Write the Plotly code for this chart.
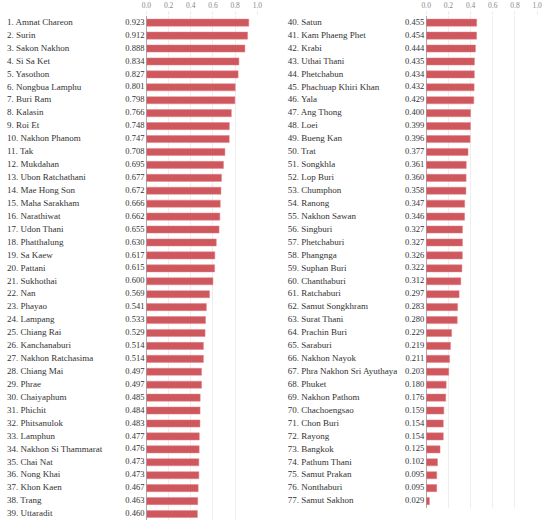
import plotly.graph_objects as go

# ranking data, two columns
left_names = ["Amnat Chareon", "Surin", "Sakon Nakhon", "Si Sa Ket", "Yasothon",
              "Nongbua Lamphu", "Buri Ram", "Kalasin", "Roi Et", "Nakhon Phanom",
              "Tak", "Mukdahan", "Ubon Ratchathani", "Mae Hong Son", "Maha Sarakham",
              "Narathiwat", "Udon Thani", "Phatthalung", "Sa Kaew", "Pattani",
              "Sukhothai", "Nan", "Phayao", "Lampang", "Chiang Rai",
              "Kanchanaburi", "Nakhon Ratchasima", "Chiang Mai", "Phrae", "Chaiyaphum",
              "Phichit", "Phitsanulok", "Lamphun", "Nakhon Si Thammarat", "Chai Nat",
              "Nong Khai", "Khon Kaen", "Trang", "Uttaradit"]
left_values = [0.923, 0.912, 0.888, 0.834, 0.827, 0.801, 0.798, 0.766, 0.748, 0.747,
               0.708, 0.695, 0.677, 0.672, 0.666, 0.662, 0.655, 0.630, 0.617, 0.615,
               0.600, 0.569, 0.541, 0.533, 0.529, 0.514, 0.514, 0.497, 0.497, 0.485,
               0.484, 0.483, 0.477, 0.476, 0.473, 0.473, 0.467, 0.463, 0.460]

right_names = ["Satun", "Kam Phaeng Phet", "Krabi", "Uthai Thani", "Phetchabun",
               "Phachuap Khiri Khan", "Yala", "Ang Thong", "Loei", "Bueng Kan",
               "Trat", "Songkhla", "Lop Buri", "Chumphon", "Ranong",
               "Nakhon Sawan", "Singburi", "Phetchaburi", "Phangnga", "Suphan Buri",
               "Chanthaburi", "Ratchaburi", "Samut Songkhram", "Surat Thani", "Prachin Buri",
               "Saraburi", "Nakhon Nayok", "Phra Nakhon Sri Ayuthaya", "Phuket", "Nakhon Pathom",
               "Chachoengsao", "Chon Buri", "Rayong", "Bangkok", "Pathum Thani",
               "Samut Prakan", "Nonthaburi", "Samut Sakhon"]
right_values = [0.455, 0.454, 0.444, 0.435, 0.434, 0.432, 0.429, 0.400, 0.399, 0.396,
                0.377, 0.361, 0.360, 0.358, 0.347, 0.346, 0.327, 0.327, 0.326, 0.322,
                0.312, 0.297, 0.283, 0.280, 0.229, 0.219, 0.211, 0.203, 0.180, 0.176,
                0.159, 0.154, 0.154, 0.125, 0.102, 0.095, 0.095, 0.029]

tick_vals = [0.0, 0.2, 0.4, 0.6, 0.8, 1.0]

W, H = 550, 524
BAR = "rgb(206,88,94)"
FONT = "Liberation Serif, Times New Roman, DejaVu Serif, serif"

left_labels = [f"{i + 1}. {n}" for i, n in enumerate(left_names)]
start = len(left_names) + 1
right_labels = [f"{i + start}. {n}" for i, n in enumerate(right_names)]

fig = go.Figure()

# bars
fig.add_trace(go.Bar(x=left_values, y=left_labels, orientation="h",
                     marker=dict(color=BAR, line=dict(color="rgb(226,130,134)", width=0.5)),
                     xaxis="x", yaxis="y", hoverinfo="skip"))
fig.add_trace(go.Bar(x=right_values, y=right_labels, orientation="h",
                     marker=dict(color=BAR, line=dict(color="rgb(226,130,134)", width=0.5)),
                     xaxis="x2", yaxis="y2", hoverinfo="skip"))

# names and value text, on helper axes measured in pixels
for labels, vals, xa, ya, x0, x1 in [
    (left_labels, left_values, "x3", "y", 2, 142),
    (right_labels, right_values, "x4", "y2", 288, 427),
]:
    fig.add_trace(go.Scatter(x=[x0] * len(labels), y=labels, mode="text",
                             text=labels, textposition="middle right",
                             textfont=dict(family=FONT, size=9, color="#333"),
                             xaxis=xa, yaxis=ya, hoverinfo="skip"))
    fig.add_trace(go.Scatter(x=[x1] * len(labels), y=labels, mode="text",
                             text=[f"{v:.3f}" for v in vals], textposition="middle left",
                             textfont=dict(family=FONT, size=8.5, color="#333"),
                             xaxis=xa, yaxis=ya, hoverinfo="skip"))

row = 12.93
top = 16.2
bot_left = top + len(left_labels) * row
bot_right = top + len(right_labels) * row

bar_axis = dict(range=[0, 1], side="top", tickvals=tick_vals, tickformat=".1f",
                tickfont=dict(family=FONT, size=7.5, color="#888"),
                showgrid=True, gridcolor="#eeeeee", gridwidth=1,
                zeroline=True, zerolinecolor="#aaaaaa", zerolinewidth=1,
                ticks="outside", ticklen=4, tickcolor="#eeeeee", showline=False,
                fixedrange=True)

fig.update_layout(
    width=W, height=H,
    margin=dict(l=0, r=0, t=0, b=0),
    paper_bgcolor="white", plot_bgcolor="white",
    showlegend=False, bargap=0.45,
    font=dict(family=FONT),
    xaxis=dict(domain=[144 / W, 257 / W], anchor="y", **bar_axis),
    xaxis2=dict(domain=[429 / W, 542 / W], anchor="y2", **bar_axis),
    xaxis3=dict(domain=[0, 144 / W], range=[0, 144], visible=False, anchor="y"),
    xaxis4=dict(domain=[275 / W, 429 / W], range=[275, 429], visible=False, anchor="y2"),
    yaxis=dict(domain=[1 - bot_left / H, 1 - top / H], type="category",
               categoryorder="array", categoryarray=left_labels,
               range=[len(left_labels) - 0.5, -0.5], showticklabels=False,
               showgrid=False, zeroline=False, ticks="", anchor="x"),
    yaxis2=dict(domain=[1 - bot_right / H, 1 - top / H], type="category",
                categoryorder="array", categoryarray=right_labels,
                range=[len(right_labels) - 0.5, -0.5], showticklabels=False,
                showgrid=False, zeroline=False, ticks="", anchor="x2"),
)

# drop the page's default body margin so the figure sits at the top-left corner
fig.write_html("out.html", config={"displayModeBar": False},
               post_script="document.body.style.margin = '0';")
